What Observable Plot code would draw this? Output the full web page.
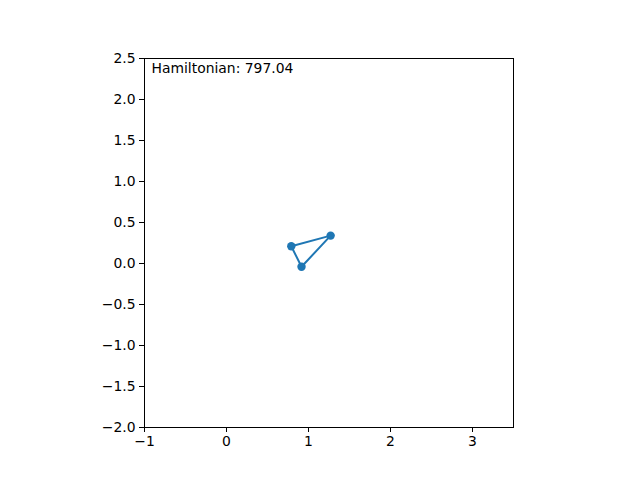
<!DOCTYPE html>
<html>
<head>
<meta charset="utf-8">
<script src="https://cdn.jsdelivr.net/npm/d3@7"></script>
<script src="https://cdn.jsdelivr.net/npm/@observablehq/plot@0.6"></script>
<style>
  html, body { margin: 0; padding: 0; background: #fff; }
  svg { display: block; }
</style>
</head>
<body>
<div id="chart"></div>
<script>
const bodyX = [0.79, 1.27, 0.915];
const bodyY = [0.21, 0.34, -0.04];
const xTicks = [-1, 0, 1, 2, 3];
const yTicks = [-2.0, -1.5, -1.0, -0.5, 0.0, 0.5, 1.0, 1.5, 2.0, 2.5];
const labelText = ["Hamiltonian: 797.04"];

const points = bodyX.map((x, i) => ({x, y: bodyY[i]}));
const loop = [...points, points[0]];

const chart = Plot.plot({
  width: 640,
  height: 480,
  marginLeft: 144,
  marginRight: 127,
  marginTop: 58,
  marginBottom: 53,
  style: {fontFamily: "DejaVu Sans", fontSize: "13.9px", background: "#fff", color: "#000"},
  x: {domain: [-1, 3.5], ticks: xTicks, tickFormat: d3.format("d")},
  y: {domain: [-2, 2.5], ticks: yTicks, tickFormat: d3.format(".1f")},
  marks: [
    Plot.frame({stroke: "#000", strokeWidth: 1}),
    Plot.axisX({ticks: xTicks, tickFormat: d3.format("d"), tickSize: 5, tickPadding: 4, label: null, fill: "#000", stroke: "#000"}),
    Plot.axisY({ticks: yTicks, tickFormat: d3.format(".1f"), tickSize: 5, tickPadding: 4, label: null, fill: "#000", stroke: "#000"}),
    Plot.line(loop, {x: "x", y: "y", stroke: "#1f77b4", strokeWidth: 2}),
    Plot.dot(points, {x: "x", y: "y", r: 4.2, fill: "#1f77b4"}),
    Plot.text(labelText, {text: d => d, frameAnchor: "top-left", textAnchor: "start", lineAnchor: "top", dx: 7, dy: 5, fill: "#000"})
  ]
});
document.getElementById("chart").appendChild(chart);
</script>
</body>
</html>
